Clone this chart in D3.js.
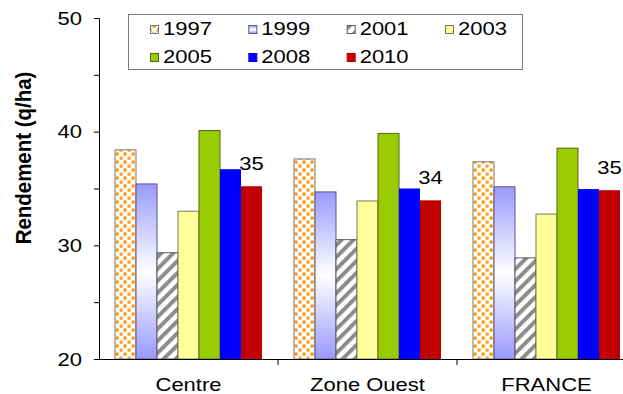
<!DOCTYPE html>
<html>
<head>
<meta charset="utf-8">
<script src="https://cdn.jsdelivr.net/npm/d3@7"></script>
<style>
  html, body { margin: 0; padding: 0; background: #fff; }
  svg { display: block; font-family: "Liberation Sans", Arial, sans-serif; }
</style>
</head>
<body>
<svg id="chart" width="623" height="394"></svg>
<script>
// Yields (q/ha) per zone and year
const categories = ["Centre", "Zone Ouest", "FRANCE"];
const years = ["1997", "1999", "2001", "2003", "2005", "2008", "2010"];
const v1997 = [38.4, 37.6, 37.35];
const v1999 = [35.4, 34.7, 35.15];
const v2001 = [29.35, 30.5, 28.9];
const v2003 = [33.0, 33.9, 32.75];
const v2005 = [40.1, 39.85, 38.55];
const v2008 = [36.7, 35.0, 34.95];
const v2010 = [35.2, 33.96, 34.85];
const yTicks = [20, 25, 30, 35, 40, 45, 50];
const yLabels = [20, 30, 40, 50];
const labelledYear = "2010";

const seriesValues = [v1997, v1999, v2001, v2003, v2005, v2008, v2010];

const svg = d3.select("#chart");
const W = 623, H = 394;
const plot = { left: 99, top: 18, bottom: 359, right: 636 };

// Fills for each year: patterns and gradient live in <defs>
const defs = svg.append("defs");

const dots = defs.append("pattern").attr("id", "p1997")
  .attr("patternUnits", "userSpaceOnUse").attr("width", 8).attr("height", 8);
dots.append("rect").attr("width", 8).attr("height", 8).attr("fill", "#fff");
dots.append("rect").attr("x", 0.5).attr("y", 0.5).attr("width", 3.2).attr("height", 3.2).attr("fill", "#ff9400");
dots.append("rect").attr("x", 4.5).attr("y", 4.5).attr("width", 3.2).attr("height", 3.2).attr("fill", "#ffa020");

const grad = defs.append("linearGradient").attr("id", "g1999")
  .attr("x1", 0).attr("y1", 0).attr("x2", 0).attr("y2", 1);
grad.append("stop").attr("offset", "0%").attr("stop-color", "#9999ff");
grad.append("stop").attr("offset", "50%").attr("stop-color", "#ffffff");
grad.append("stop").attr("offset", "100%").attr("stop-color", "#9999ff");

const stripes = defs.append("pattern").attr("id", "p2001")
  .attr("patternUnits", "userSpaceOnUse").attr("width", 8.5).attr("height", 8.5)
  .attr("patternTransform", "rotate(45)");
stripes.append("rect").attr("width", 8.5).attr("height", 8.5).attr("fill", "#fff");
stripes.append("rect").attr("x", 0).attr("y", 0).attr("width", 4).attr("height", 8.5).attr("fill", "#8c8c8c");

const fills = {
  "1997": "url(#p1997)", "1999": "url(#g1999)", "2001": "url(#p2001)",
  "2003": "#ffff99", "2005": "#99cc00", "2008": "#0000ff", "2010": "#c00000"
};
const strokes = {
  "1997": "#7a7a7a", "1999": "#55558a", "2001": "#5a5a5a",
  "2003": "#7a7a5a", "2005": "#55661a", "2008": "none", "2010": "none"
};

// Scales
const y = d3.scaleLinear().domain([20, 50]).range([plot.bottom, plot.top]);
const x0 = d3.scaleBand().domain(categories).range([plot.left, plot.right]).padding(0);
const x1 = d3.scaleBand().domain(years).range([16, x0.bandwidth() - 16]).padding(0);

// Text is drawn slightly compressed vertically
const TS = 0.86;
function addText(g, x, yBase, str, opts = {}) {
  return g.append("text")
    .attr("transform", `translate(${x},${yBase}) scale(1,${TS})`)
    .attr("text-anchor", opts.anchor || "start")
    .attr("font-size", opts.size || 22)
    .attr("font-weight", opts.weight || "normal")
    .attr("fill", "#000")
    .text(str);
}

const clip = defs.append("clipPath").attr("id", "frame");
clip.append("rect").attr("width", W).attr("height", H);
const root = svg.append("g").attr("clip-path", "url(#frame)");

// Bars
const rows = categories.map((c, i) => ({ cat: c, vals: years.map((yr, j) => ({ year: yr, value: seriesValues[j][i] })) }));
const groups = root.selectAll("g.grp").data(rows).join("g")
  .attr("class", "grp")
  .attr("transform", d => `translate(${x0(d.cat)},0)`);

groups.selectAll("rect").data(d => d.vals).join("rect")
  .attr("x", d => x1(d.year))
  .attr("y", d => y(d.value))
  .attr("width", x1.bandwidth())
  .attr("height", d => y(20) - y(d.value))
  .attr("fill", d => fills[d.year])
  .attr("stroke", d => strokes[d.year])
  .attr("stroke-width", 1);

// Value labels above the 2010 bars
const fmt = d3.format(".0f");
groups.each(function (d) {
  const v = d.vals.find(e => e.year === labelledYear);
  addText(d3.select(this), x1(v.year) + x1.bandwidth() / 2, y(v.value) - 16, fmt(v.value), { anchor: "middle" });
});

// Y axis
const yAxis = d3.axisLeft(y).tickValues(yTicks).tickSize(5).tickFormat("");
const yG = root.append("g").attr("transform", `translate(${plot.left},0)`).call(yAxis);
yG.selectAll("path, line").attr("stroke", "#000").attr("stroke-width", 1);
yLabels.forEach(v => addText(root, 82, y(v) + 6.8, String(v), { anchor: "end" }));

// X axis
const xAxis = d3.axisBottom(x0).tickSize(0).tickFormat("");
const xG = root.append("g").attr("transform", `translate(0,${plot.bottom})`).call(xAxis);
xG.selectAll("path").attr("stroke", "#000").attr("stroke-width", 1);
categories.slice(1).forEach(c => {
  root.append("line")
    .attr("x1", x0(c)).attr("x2", x0(c))
    .attr("y1", plot.bottom).attr("y2", plot.bottom + 6)
    .attr("stroke", "#000");
});
categories.forEach(c => addText(root, x0(c) + x0.bandwidth() / 2, 391, c, { anchor: "middle" }));

// Y title
root.append("text")
  .attr("transform", `translate(31,158) rotate(-90) scale(0.93,1)`)
  .attr("text-anchor", "middle")
  .attr("font-size", 22)
  .attr("font-weight", "bold")
  .text("Rendement (q/ha)");

// Legend
const leg = root.append("g");
leg.append("rect").attr("x", 128.5).attr("y", 14.5).attr("width", 394).attr("height", 55)
  .attr("fill", "#fff").attr("stroke", "#7a7a7a");
const legX = d3.scalePoint().domain([0, 1, 2, 3]).range([150, 445]);
const legY = [25, 53];
years.forEach((yr, i) => {
  const cx = legX(i % 4), ry = legY[Math.floor(i / 4)];
  leg.append("rect").attr("x", cx + 0.5).attr("y", ry + 0.5).attr("width", 8).attr("height", 8)
    .attr("fill", fills[yr]).attr("stroke", strokes[yr] === "none" ? fills[yr] : strokes[yr]);
  addText(leg, cx + 13, ry + 9.5, yr);
});
</script>
</body>
</html>
